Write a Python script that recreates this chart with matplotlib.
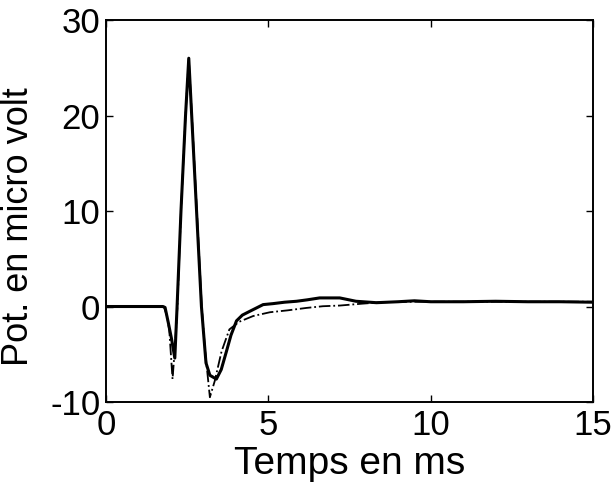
import matplotlib
matplotlib.use("Agg")
import matplotlib.pyplot as plt

plt.rcParams['font.family'] = ['Liberation Sans', 'DejaVu Sans']
plt.rcParams['axes.unicode_minus'] = False

# Solid trace (time in ms, potential in microvolt)
t_solid = [0, 1.75, 1.82, 1.92, 2.02, 2.12, 2.19, 2.31, 2.45, 2.55, 2.67, 2.79, 2.94, 3.08,
           3.2, 3.4, 3.55, 3.71, 3.85, 4.02, 4.2, 4.43, 4.84, 5.14, 5.5, 5.87, 6.2, 6.58,
           7.2, 7.7, 8.33, 9.0, 9.5, 10.0, 11.0, 12.0, 13.0, 14.0, 15.0]
v_solid = [0, 0, -0.1, -1.7, -3.4, -5.4, 0, 10, 20, 26, 18, 10, 0, -5.9,
           -7.2, -7.6, -6.6, -4.7, -3.0, -1.5, -0.9, -0.5, 0.2, 0.3, 0.45, 0.55, 0.7, 0.9,
           0.9, 0.55, 0.4, 0.5, 0.6, 0.5, 0.5, 0.55, 0.5, 0.5, 0.45]

# Dash-dot trace
t_dash = [0, 1.78, 1.88, 1.95, 2.05, 2.13, 2.2, 2.31, 2.45, 2.55, 2.67, 2.8, 2.95, 3.05,
          3.2, 3.35, 3.56, 3.8, 4.1, 4.53, 5.05, 5.6, 6.17, 6.68, 7.2, 7.9, 8.5, 9.5,
          11.0, 13.0, 15.0]
v_dash = [0, 0, -1.0, -2.5, -7.6, -4.0, 0, 10, 20, 26, 18.5, 10, 0, -4.5,
          -9.5, -7.8, -4.7, -2.4, -1.6, -1.0, -0.6, -0.4, -0.15, 0.03, 0.1, 0.3, 0.45, 0.5,
          0.5, 0.5, 0.5]

x_ticks = [0, 5, 10, 15]
y_ticks = [-10, 0, 10, 20, 30]

fig = plt.figure(figsize=(6.14, 4.88), dpi=100)
ax = fig.add_axes([0.1726, 0.1762, 0.7932, 0.7828])

ax.plot(t_dash, v_dash, color='black', linestyle='-.', linewidth=1.3)
ax.plot(t_solid, v_solid, color='black', linestyle='-', linewidth=2.2)

ax.set_xlim(0, 15)
ax.set_ylim(-10, 30)
ax.set_xticks(x_ticks)
ax.set_yticks(y_ticks)
ax.tick_params(direction='in', length=5, width=1, labelsize=25,
               top=True, right=True)
ax.tick_params(axis='x', pad=5)
ax.tick_params(axis='y', pad=4)
for s in ax.spines.values():
    s.set_linewidth(1.4)

ax.set_xlabel('Temps en ms', fontsize=28)
ax.set_ylabel('Pot. en micro volt', fontsize=26)
ax.xaxis.set_label_coords(0.5, -0.115)
ax.yaxis.set_label_coords(-0.1437, 0.458)
ax.xaxis.label.set_va('top')
ax.yaxis.label.set_va('bottom')

fig.savefig('out.png', dpi=100)
